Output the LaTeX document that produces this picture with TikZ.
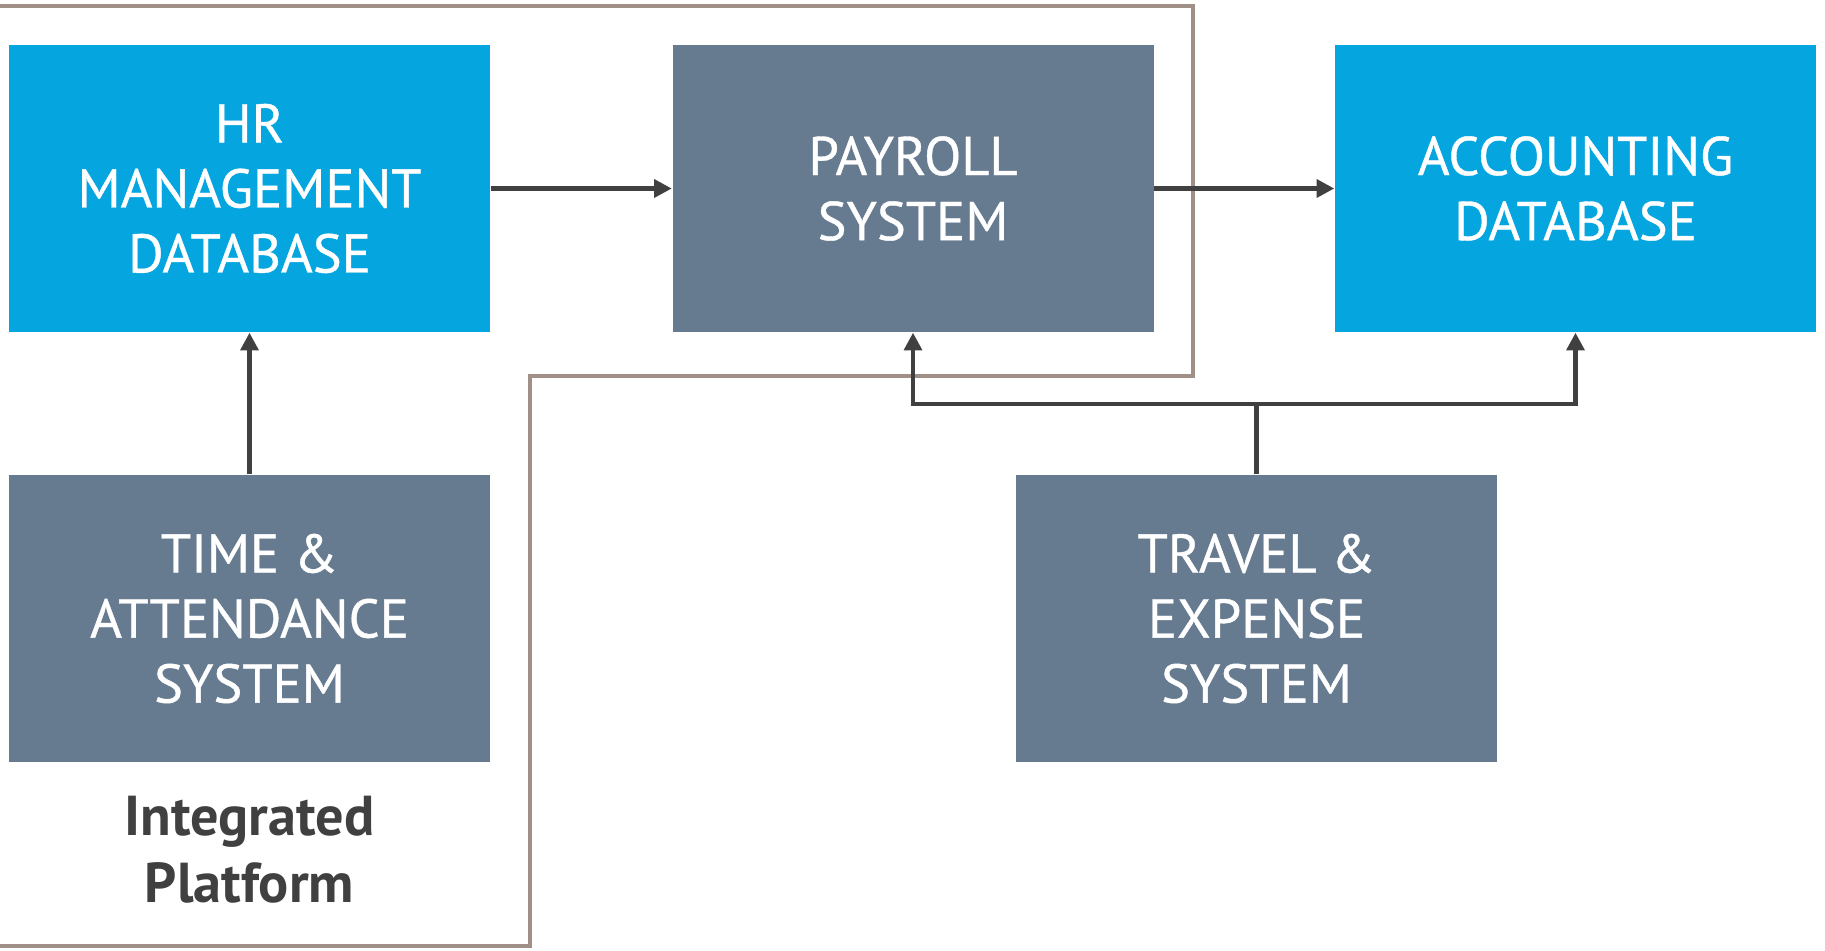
\documentclass[tikz,border=0pt]{standalone}
\usepackage{fontspec}
\setmainfont{PT Sans}
\newfontfamily\boxfont[FakeBold=0.7]{PT Sans}
\usepackage{xcolor}
\definecolor{skyblue}{RGB}{5,165,224}
\definecolor{slate}{RGB}{102,123,144}
\definecolor{darkline}{RGB}{64,64,64}
\definecolor{frameline}{RGB}{160,144,136}
\usepackage{tikz}
\usetikzlibrary{
  arrows.meta,
  positioning
}

\begin{document}
\begin{tikzpicture}[
  dbbox/.style={rectangle, fill=skyblue, minimum width=4.81cm, minimum height=2.87cm, font=\boxfont\fontsize{15.5}{18.5}\selectfont, text=white, align=center},
  sysbox/.style={rectangle, fill=slate, minimum width=4.81cm, minimum height=2.87cm, font=\boxfont\fontsize{15.5}{18.5}\selectfont, text=white, align=center},
  flow/.style={-{Triangle[length=5pt, width=5pt]}, line width=1.2pt, darkline},
  link/.style={line width=1.2pt, darkline}
]
  \useasboundingbox (0,0) rectangle (18.25,-9.5);

  % platform outline
  \draw[frameline, line width=1.4pt] (0,-0.06) -- (11.93,-0.06) -- (11.93,-3.76) -- (5.30,-3.76) -- (5.30,-9.46) -- (0,-9.46);

  \node[dbbox] (hrdb) at (2.495,-1.885) {HR\\MANAGEMENT\\DATABASE};
  \node[sysbox] (payroll) at (9.13,-1.885) {PAYROLL\\SYSTEM};
  \node[dbbox] (acctdb) at (15.755,-1.885) {ACCOUNTING\\DATABASE};
  \node[sysbox] (timeatt) at (2.495,-6.185) {TIME \&\\ATTENDANCE\\SYSTEM};
  \node[sysbox] (travel) at (12.565,-6.185) {TRAVEL \&\\EXPENSE\\SYSTEM};

  \node[font=\fontsize{16}{19}\selectfont\bfseries, text=darkline, align=center] (platform) at (2.495,-8.5) {Integrated\\Platform};

  \coordinate (split) at (travel.north |- 0,-4.04);

  \draw[flow] (hrdb) -- (payroll);
  \draw[flow] (payroll) -- (acctdb);
  \draw[flow] (timeatt) -- (hrdb);
  \draw[link] (travel) -- (split);
  \draw[flow] (split) -| (payroll.south);
  \draw[flow] (split) -| (acctdb.south);
\end{tikzpicture}
\end{document}
